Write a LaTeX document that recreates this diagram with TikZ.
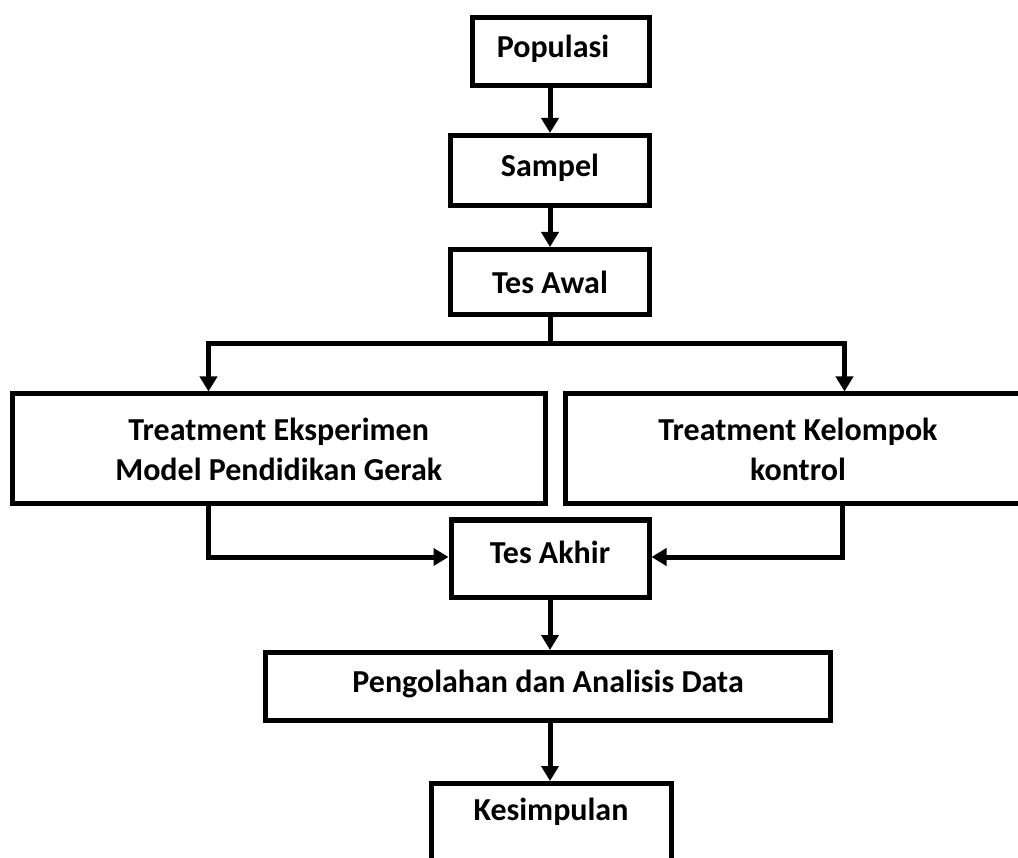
\documentclass[tikz,border=0pt]{standalone}
\usepackage{fontspec}
\setmainfont{Carlito}
\usetikzlibrary{arrows.meta}
\newcommand{\up}[2]{\raisebox{#1}[\height][\depth]{#2}}
\begin{document}
\begin{tikzpicture}[x=1pt,y=-1pt,
  txt/.style={font=\bfseries\fontsize{32}{40}\selectfont},
  box/.style={draw=black,line width=5pt,rectangle,inner sep=0pt,align=center,txt},
  arr/.style={line width=5pt,-{Triangle[width=17pt,length=15pt]}},
  ln/.style={line width=5pt}]
\useasboundingbox (0,0) rectangle (1018,858);
\clip (0,0) rectangle (1018,858);
\fill[white] (0,0) rectangle (1018,858);
\node[box,minimum width=177pt,minimum height=68pt] (pop) at (561,51.5) {};
\node[txt] (popt) at (553,49) {Populasi};
\node[box,minimum width=199pt,minimum height=70pt] (sam) at (550,170.5) {\up{3pt}{Sampel}};
\node[box,minimum width=199pt,minimum height=65pt] (awal) at (550,282) {Tes Awal};
\node[box,minimum width=532.5pt,minimum height=110pt] (tl) at (278.75,449) {Treatment Eksperimen\\Model Pendidikan Gerak};
\node[box,minimum width=465pt,minimum height=110pt] (tr) at (798,449) {Treatment Kelompok\\kontrol};
\node[box,minimum width=198pt,minimum height=77pt] (ta) at (550,558.5) {\up{6pt}{Tes Akhir}};
\node[box,minimum width=565.5pt,minimum height=68pt] (pen) at (548,686.5) {\up{3pt}{Pengolahan dan Analisis Data}};
\node[box,minimum width=240pt,minimum height=140pt,anchor=north] (kes) at (551,781) {};
\node[txt] (kest) at (551,812) {Kesimpulan};
\coordinate (sp) at (550,344);
\draw[arr] (pop.south -| 550,0) -- (sam.north);
\draw[arr] (sam) -- (awal);
\draw[ln] (awal.south) -- (sp);
\draw[arr] (sp) -| ([xshift=198.5pt]tl.north west);
\draw[arr] (sp) -| ([xshift=281.5pt]tr.north west);
\draw[arr] ([xshift=198.5pt]tl.south west) |- ([yshift=1.5pt]ta.west);
\draw[arr] ([xshift=279.5pt]tr.south west) |- ([yshift=1.5pt]ta.east);
\draw[arr] (ta.south) -- (ta.south |- pen.north);
\draw[arr] (pen.south -| 550,0) -- (kes.north -| 550,0);
\end{tikzpicture}
\end{document}
